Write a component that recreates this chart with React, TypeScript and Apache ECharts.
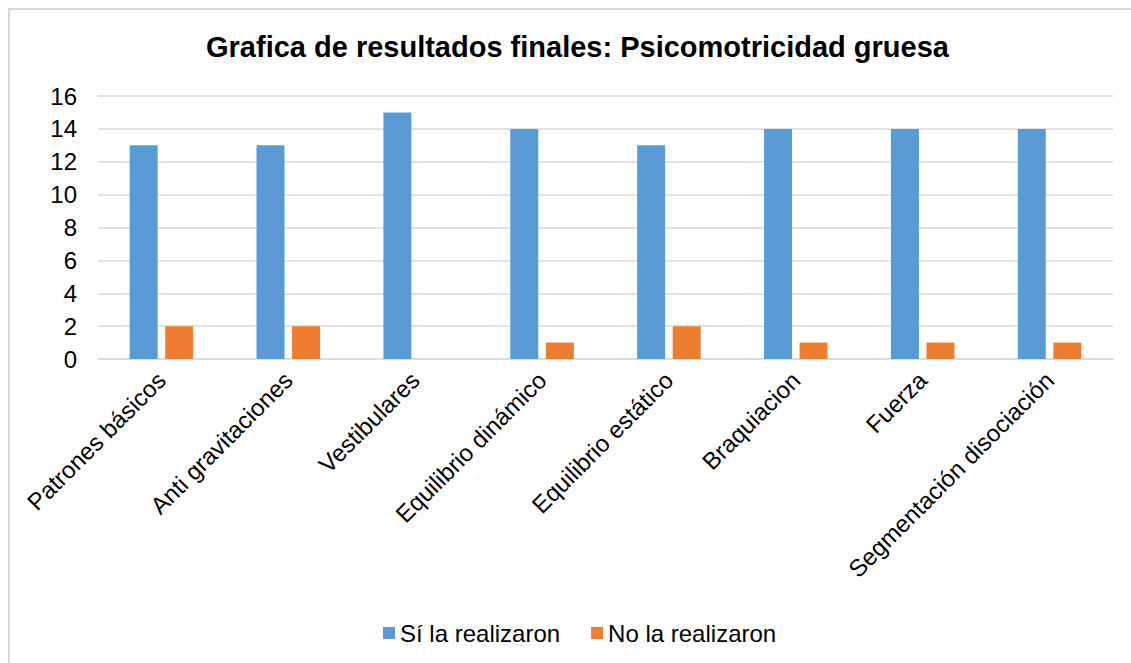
import React, { useEffect, useRef } from "react";
import * as echarts from "echarts";

const categories = [
  "Patrones básicos",
  "Anti gravitaciones",
  "Vestibulares",
  "Equilibrio dinámico",
  "Equilibrio estático",
  "Braquiacion",
  "Fuerza",
  "Segmentación disociación",
];
const siValues = [13, 13, 15, 14, 13, 14, 14, 14];
const noValues = [2, 2, 0, 1, 2, 1, 1, 1];
const seriesNames = ["Sí la realizaron", "No la realizaron"];
const titleText = "Grafica de resultados finales: Psicomotricidad gruesa";

export default function App() {
  const ref = useRef<HTMLDivElement>(null);
  useEffect(() => {
    if (!ref.current) return;
    const chart = echarts.init(ref.current, undefined, { renderer: "svg" });
    const font = "'Liberation Sans', Arial, sans-serif";
    chart.setOption({
      animation: false,
      textStyle: { fontFamily: font },
      title: {
        text: titleText,
        left: 206,
        top: 32,
        padding: 0,
        textStyle: { fontFamily: font, fontSize: 29, fontWeight: "bold", color: "#000" },
      },
      legend: {
        left: 383,
        top: 621,
        padding: 0,
        itemWidth: 12,
        itemHeight: 12,
        itemGap: 31,
        icon: "rect",
        textStyle: { fontFamily: font, fontSize: 24, color: "#000", padding: [0, 0, 0, 0] },
        data: seriesNames,
      },
      grid: { left: 98, right: 18, top: 96, bottom: 304, containLabel: false },
      xAxis: {
        type: "category",
        data: categories,
        axisLine: { show: true, lineStyle: { color: "#d9d9d9", width: 1.5 } },
        axisTick: { show: false },
        axisLabel: {
          rotate: 45,
          interval: 0,
          margin: 17,
          fontFamily: font,
          fontSize: 24,
          color: "#000",
        },
      },
      yAxis: {
        type: "value",
        min: 0,
        max: 16,
        interval: 2,
        axisLine: { show: false },
        axisTick: { show: false },
        splitLine: { lineStyle: { color: "#d9d9d9", width: 1.5 } },
        axisLabel: { margin: 21, fontFamily: font, fontSize: 24, color: "#000" },
      },
      series: [
        {
          name: seriesNames[0],
          type: "bar",
          data: siValues,
          barWidth: 28,
          barGap: "27%",
          itemStyle: { color: "#5B9BD5" },
        },
        {
          name: seriesNames[1],
          type: "bar",
          data: noValues,
          barWidth: 28,
          barGap: "27%",
          itemStyle: { color: "#ED7D31" },
        },
      ],
    });
    return () => chart.dispose();
  }, []);
  return (
    <>
      <div
        style={{
          position: "fixed",
          left: 8,
          top: 8,
          width: 1300,
          height: 800,
          border: "2px solid #d9d9d9",
          background: "#fff",
        }}
      />
      <div
        ref={ref}
        style={{ position: "fixed", left: 0, top: 0, width: 1131, height: 663 }}
      />
    </>
  );
}
